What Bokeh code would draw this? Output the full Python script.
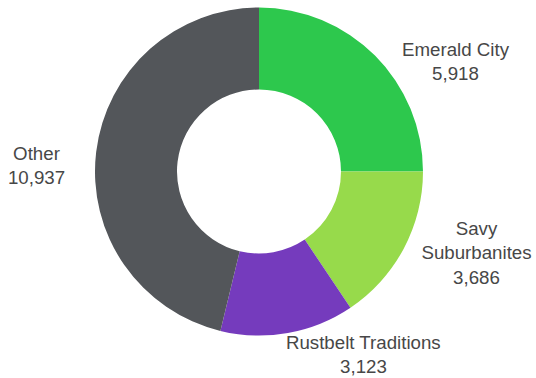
from math import pi
from bokeh.plotting import figure
from bokeh.models import Range1d, ColumnDataSource
from bokeh.core.properties import value
from bokeh.embed import file_html
from bokeh.resources import INLINE

# ---- data ----
segments = ["Emerald City", "Savy Suburbanites", "Rustbelt Traditions", "Other"]
label_names = ["Emerald City", "Savy\nSuburbanites", "Rustbelt Traditions", "Other"]
counts = [5918, 3686, 3123, 10937]
colors = ["#2DC84D", "#97DA4B", "#753BBD", "#53565A"]

# ---- layout (pixels) ----
W, H = 536, 378
CX, CY = 258.5, H - 171
R_OUT, R_IN = 164, 82
# label anchor (centre x, top y in screen pixels)
label_x = [455, 476, 363, 36]
label_top = [38, 217, 331, 142]

total = sum(counts)
starts, ends = [], []
acc = 0
for c in counts:
    starts.append(pi / 2 - 2 * pi * acc / total)
    acc += c
    ends.append(pi / 2 - 2 * pi * acc / total)

src = ColumnDataSource(dict(
    seg=segments, count=counts, color=colors, start=starts, end=ends,
    x=[CX] * len(counts), y=[CY] * len(counts),
))

p = figure(width=W, height=H, output_backend="svg", toolbar_location=None,
           x_range=Range1d(0, W), y_range=Range1d(0, H),
           x_axis_type=None, y_axis_type=None, min_border=0)
p.outline_line_color = None
p.background_fill_color = "white"
p.border_fill_color = "white"

p.annular_wedge(x="x", y="y", inner_radius=R_IN, outer_radius=R_OUT,
                start_angle="start", end_angle="end", direction="clock",
                fill_color="color", line_color=None, source=src)

texts = [f"{n}\n{c:,}" for n, c in zip(label_names, counts)]
lsrc = ColumnDataSource(dict(x=label_x, y=[H - t for t in label_top], t=texts))
p.text(x="x", y="y", text="t", source=lsrc, text_align="center",
       text_baseline="top", text_font=value("Liberation Sans"),
       text_font_size="18.7px", text_color="#474747", text_line_height=1.17)

open("out.html", "w").write(file_html(p, INLINE))
